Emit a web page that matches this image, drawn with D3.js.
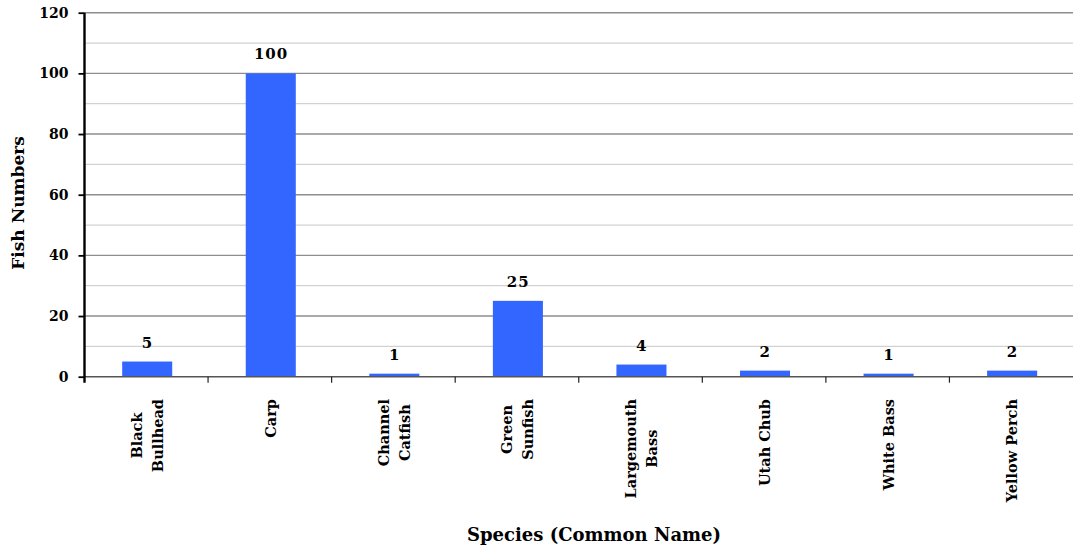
<!DOCTYPE html>
<html>
<head>
<meta charset="utf-8">
<script src="https://cdn.jsdelivr.net/npm/d3@7"></script>
<style>
  html, body { margin: 0; padding: 0; background: #fff; }
  svg { display: block; }
  text { font-family: "DejaVu Serif", "Liberation Serif", serif; font-weight: bold; fill: #000; }
</style>
</head>
<body>
<svg id="chart" width="1073" height="548"></svg>
<script>
// Fish survey: counts by species
const categories = ["Black Bullhead", "Carp", "Channel Catfish", "Green Sunfish",
                    "Largemouth Bass", "Utah Chub", "White Bass", "Yellow Perch"];
const categoryLines = [["Black", "Bullhead"], ["Carp"], ["Channel", "Catfish"], ["Green", "Sunfish"],
                       ["Largemouth", "Bass"], ["Utah Chub"], ["White Bass"], ["Yellow Perch"]];
const fishCounts = [5, 100, 1, 25, 4, 2, 1, 2];
const majorTicks = [0, 20, 40, 60, 80, 100, 120];
const minorTicks = [10, 30, 50, 70, 90, 110];
const xTitle = "Species (Common Name)";
const yTitle = "Fish Numbers";

const FONT = "'DejaVu Serif', 'Liberation Serif', serif";
const svg = d3.select("#chart");
const plotLeft = 84.5, plotRight = 1073, plotTop = 12.7, plotBottom = 376.7;

const x = d3.scaleBand().domain(categories).range([plotLeft, plotRight]).padding(0);
const y = d3.scaleLinear().domain([0, 120]).range([plotBottom, plotTop]);

// minor gridlines
svg.append("g").selectAll("line").data(minorTicks).join("line")
  .attr("x1", plotLeft).attr("x2", plotRight)
  .attr("y1", d => y(d)).attr("y2", d => y(d))
  .attr("stroke", "#d2d2d2").attr("stroke-width", 1.3);

// major gridlines
svg.append("g").selectAll("line").data(majorTicks.filter(d => d > 0)).join("line")
  .attr("x1", plotLeft).attr("x2", plotRight)
  .attr("y1", d => y(d)).attr("y2", d => y(d))
  .attr("stroke", "#8e8e8e").attr("stroke-width", 1.4);

// bars
const bw = x.bandwidth();
svg.append("g").selectAll("rect").data(fishCounts).join("rect")
  .attr("x", (d, i) => x(categories[i]) + bw * 0.305)
  .attr("width", bw * 0.405)
  .attr("y", d => y(d))
  .attr("height", d => y(0) - y(d))
  .attr("fill", "#3366ff");

// value labels
svg.append("g").selectAll("text").data(fishCounts).join("text")
  .attr("x", (d, i) => x(categories[i]) + bw * 0.51)
  .attr("y", d => y(d) - 14)
  .attr("text-anchor", "middle")
  .style("font-size", "15px")
  .style("letter-spacing", "1px")
  .text(d => d);

// x axis line with category boundary ticks
svg.append("line")
  .attr("x1", plotLeft).attr("x2", plotRight).attr("y1", y(0)).attr("y2", y(0))
  .attr("stroke", "#555").attr("stroke-width", 1.4);
svg.append("g").selectAll("line").data(categories.slice(1)).join("line")
  .attr("x1", d => x(d)).attr("x2", d => x(d))
  .attr("y1", y(0)).attr("y2", y(0) + 6)
  .attr("stroke", "#222").attr("stroke-width", 1.2);

// y axis
const yAxis = svg.append("g").attr("transform", `translate(${plotLeft},0)`)
  .call(d3.axisLeft(y).tickValues(majorTicks).tickSize(6).tickPadding(10).tickFormat(d3.format("d")));
yAxis.select(".domain").remove();
yAxis.selectAll(".tick line").attr("stroke", "#000").attr("stroke-width", 1.8);
yAxis.selectAll(".tick text")
  .style("font-family", FONT)
  .style("font-weight", "bold").style("font-size", "14px").attr("fill", "#000");
svg.append("line")
  .attr("x1", plotLeft).attr("x2", plotLeft).attr("y1", plotTop).attr("y2", plotBottom + 6)
  .attr("stroke", "#000").attr("stroke-width", 2.4);

// category labels, rotated, lines centred on each other, top-aligned
const lineGap = 21, labelTop = 399;
categoryLines.forEach((lines, i) => {
  const cx = x(categories[i]) + bw / 2;
  const g = svg.append("g").attr("transform", `translate(${cx},${labelTop}) rotate(-90)`);
  const t = g.append("text").attr("text-anchor", "middle").style("font-size", "14.5px");
  const spans = lines.map((ln, j) => t.append("tspan")
    .attr("x", 0)
    .attr("y", (j - (lines.length - 1) / 2) * lineGap + 6)
    .text(ln));
  const maxW = d3.max(spans, s => s.node().getComputedTextLength());
  spans.forEach(s => s.attr("x", -maxW / 2));
});

// axis titles
svg.append("text")
  .attr("x", 594).attr("y", 541)
  .attr("text-anchor", "middle")
  .style("font-size", "18px")
  .text(xTitle);

svg.append("text")
  .attr("transform", "translate(24,203) rotate(-90)")
  .attr("text-anchor", "middle")
  .style("font-size", "17px")
  .text(yTitle);
</script>
</body>
</html>
